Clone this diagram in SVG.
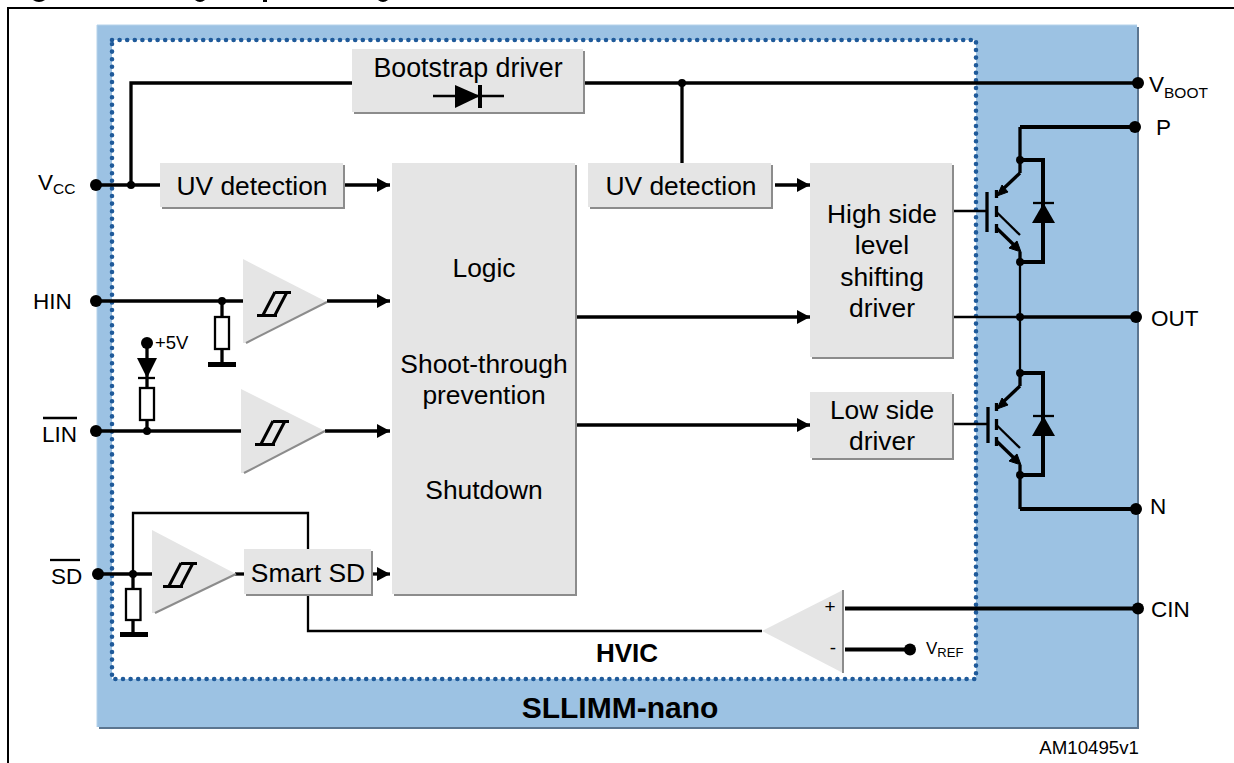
<svg xmlns="http://www.w3.org/2000/svg" width="1234" height="763" viewBox="0 0 1234 763">
<style>
text{font-family:"Liberation Sans",Arial,sans-serif;fill:#000}
.c{text-anchor:middle;font-size:26.400px}
.l{font-size:22.500px}
.s{font-size:15.500px}
.b{fill:#e5e5e5}
.sh{fill:#8c8c8c}
.w{fill:none;stroke:#000;stroke-width:3.300}
.t{fill:none;stroke:#000;stroke-width:2.300}
.k{fill:none;stroke:#000;stroke-width:4}
.r{fill:#fff;stroke:#000;stroke-width:2.300}
.tri{fill:#e5e5e5}
.hy{fill:none;stroke:#000;stroke-width:3}
</style>
<defs>
<marker id="a" markerUnits="userSpaceOnUse" markerWidth="13" markerHeight="14" refX="13" refY="7" orient="auto"><path d="M0 0L13 7L0 14Z" fill="#000"/></marker>
<g id="hyst"><path class="hy" d="M257 315.500H277M275 292.500H291M263 315L275 292M275 315L287 292"/></g>
<g id="igbt">
<path class="w" d="M1020 173L1002 190"/>
<path d="M1008 192L997 196L1002 185Z" fill="#000" stroke="#000"/>
<path class="t" d="M996.500 212L1020 235"/>
<path class="w" d="M996.500 228L1014 245"/>
<path d="M1009 248L1021 252L1017 241Z" fill="#000" stroke="#000"/>
<path class="w" d="M996.500 190V198M996.500 206V217M996.500 224V233"/>
<path d="M1032 223L1043.500 203L1055 223Z" fill="#000"/>
<path class="t" d="M1033 203H1054"/>
<path class="k" d="M1020 160H1043V262H1020"/>
<path class="w" d="M1020 160V173M1020 252V262"/>
<circle cx="1020" cy="160" r="4"/><circle cx="1020" cy="262" r="4"/>
</g>
</defs>
<rect width="1234" height="763" fill="#fff"/>
<path d="M33 0Q39 4 45 0ZM195 0Q200 4 205 0ZM263 0V2H267V0ZM378 0Q383 4 388 0Z" fill="#000"/>
<path d="M8 763V8H1234" fill="none" stroke="#000" stroke-width="2"/>
<g id="sllimm">
<rect x="99" y="27" width="1040" height="702" fill="#5b7590"/>
<rect x="97" y="25" width="1040" height="702" fill="#9cc2e3"/>
<path d="M97 727V25H1137" fill="none" stroke="#b5d2ea" stroke-width="1"/>
<text x="620" y="718" text-anchor="middle" font-size="30" font-weight="700">SLLIMM-nano</text>
</g>
<g id="hvic">
<rect x="112" y="40" width="864" height="639" fill="#fff" stroke="#1f5a9a" stroke-width="4.600" stroke-linecap="round" stroke-dasharray="0 7.600"/>
<text x="627" y="662" text-anchor="middle" font-size="26" font-weight="700">HVIC</text>
</g>
<g id="connectors">
<path class="w" d="M96 185H160M131 185V83H352M583 83H1138M682 83V163"/>
<path class="w" d="M345 185H390" marker-end="url(#a)"/>
<path class="w" d="M775 185H810" marker-end="url(#a)"/>
<path class="w" d="M96 301H243M222 301V363"/>
<path class="w" d="M327 301H390" marker-end="url(#a)"/>
<path class="w" d="M96 431H241M147 343V431"/>
<path class="w" d="M325 431H390" marker-end="url(#a)"/>
<path class="w" d="M98 574H152M133 574V632"/>
<path class="t" d="M133 574V513H308V549M308 595V631H762"/>
<path class="w" d="M235 574H244"/>
<path class="w" d="M372 574H390" marker-end="url(#a)"/>
<path class="w" d="M577 317H810" marker-end="url(#a)"/>
<path class="w" d="M577 425H810" marker-end="url(#a)"/>
<path class="t" d="M954 211H987M954 424H987M954 317H1020"/>
<path class="w" d="M1020 317H1136"/>
<path class="k" d="M1020 127H1135"/>
<path class="w" d="M1020 127V160"/>
<path class="t" d="M1020 262V373"/>
<path class="w" d="M1020 475V509"/>
<path class="k" d="M1020 509H1136"/>
<path class="k" d="M845 608.500H1138M845 649.500H910"/>
<path class="w" d="M987 192V232"/>
<path class="w" d="M988 407V443"/>
<g fill="#000">
<circle cx="96" cy="185" r="6"/><circle cx="131" cy="185" r="4"/><circle cx="682" cy="83" r="4"/><circle cx="1138" cy="83" r="6"/>
<circle cx="1135" cy="127" r="6"/><circle cx="1020" cy="317" r="4"/><circle cx="1136" cy="317" r="6"/><circle cx="1136" cy="509" r="6"/>
<circle cx="96" cy="301" r="6"/><circle cx="222" cy="301" r="4"/><circle cx="96" cy="431" r="6"/><circle cx="147" cy="431" r="4"/>
<circle cx="147" cy="343" r="6"/><circle cx="98" cy="574" r="6"/><circle cx="133" cy="574" r="4"/>
<circle cx="1138" cy="608.500" r="6"/><circle cx="910" cy="649.500" r="6"/>
</g>
</g>
<g id="bootstrap-driver">
<rect class="sh" x="354" y="51" width="231" height="63"/><rect class="b" x="352" y="49" width="231" height="63"/>
<text class="c" x="468" y="77" style="font-size:26.800px">Bootstrap driver</text>
<path class="t" d="M433 96H504"/><path d="M455 85L480 96L455 108Z" fill="#000"/><path d="M480 85V108" stroke="#000" stroke-width="4"/>
</g>
<g id="uv-detection-1"><rect class="sh" x="162" y="165" width="183" height="44"/><rect class="b" x="160" y="163" width="183" height="44"/><text class="c" x="252" y="195">UV detection</text></g>
<g id="logic"><rect class="sh" x="394" y="165" width="183" height="431"/><rect class="b" x="392" y="163" width="183" height="431"/>
<text class="c" x="484" y="277">Logic</text><text class="c" x="484" y="373">Shoot-through</text><text class="c" x="484" y="404">prevention</text><text class="c" x="484" y="499">Shutdown</text></g>
<g id="uv-detection-2"><rect class="sh" x="590" y="165" width="183" height="44"/><rect class="b" x="588" y="163" width="183" height="44"/><text class="c" x="681" y="195">UV detection</text></g>
<g id="high-side-driver"><rect class="sh" x="812" y="165" width="142" height="194"/><rect class="b" x="810" y="163" width="142" height="194"/>
<text class="c" x="882" y="223">High side</text><text class="c" x="882" y="254">level</text><text class="c" x="882" y="286">shifting</text><text class="c" x="882" y="317">driver</text></g>
<g id="low-side-driver"><rect class="sh" x="812" y="394" width="142" height="66"/><rect class="b" x="810" y="392" width="142" height="66"/>
<text class="c" x="882" y="419">Low side</text><text class="c" x="882" y="450">driver</text></g>
<g id="smart-sd"><rect class="sh" x="246" y="551" width="127" height="45"/><rect class="b" x="244" y="549" width="127" height="45"/><text class="c" x="308" y="582">Smart SD</text></g>
<g id="amp-hin"><path class="tri" d="M243 259L327 302L246 343L243 343Z"/><path d="M327 302L246 343" stroke="#8c8c8c" stroke-width="2"/><use href="#hyst"/></g>
<g id="amp-lin"><path class="tri" d="M241 389L325 431L244 473L241 473Z"/><path d="M325 431L244 473" stroke="#8c8c8c" stroke-width="2"/><use href="#hyst" x="-2" y="129"/></g>
<g id="amp-sd"><path class="tri" d="M152 530L236 574L155 613L152 613Z"/><path d="M236 574L155 613" stroke="#8c8c8c" stroke-width="2"/><use href="#hyst" x="-94" y="271"/></g>
<g id="comparator"><path class="tri" d="M762 631L843 590V673Z"/><path d="M843 590V673" stroke="#8c8c8c" stroke-width="2"/><text x="830" y="613" font-size="19" text-anchor="middle">+</text><text x="833" y="654" font-size="19" text-anchor="middle">-</text></g>
<g id="input-parts">
<rect class="r" x="215" y="317" width="14" height="32"/><rect x="208" y="362" width="28" height="5"/>
<rect class="r" x="126" y="589" width="14.500" height="31"/><rect x="120" y="632" width="28" height="5"/>
<path d="M137 358H157L147 378Z" fill="#000"/><path class="t" d="M138 378H155"/>
<rect class="r" x="140" y="388" width="14" height="32"/>
<text x="155" y="349" font-size="18.500">+5V</text>
</g>
<g id="igbt-high"><use href="#igbt"/></g>
<g id="igbt-low"><use href="#igbt" y="213"/></g>
<g id="labels">
<text class="l" x="38" y="190">V<tspan class="s" dy="4">CC</tspan></text>
<text class="l" x="33" y="309">HIN</text>
<text class="l" x="42" y="442">LIN</text><path class="t" d="M43 418H77"/>
<text class="l" x="51" y="584">SD</text><path class="t" d="M50 560H80"/>
<text class="l" x="1149" y="92">V<tspan class="s" dy="6">BOOT</tspan></text>
<text class="l" x="1156" y="135">P</text>
<text class="l" x="1151" y="326">OUT</text>
<text class="l" x="1150" y="514">N</text>
<text class="l" x="1151" y="617">CIN</text>
<text x="926" y="654" font-size="17">V<tspan font-size="13" dy="3">REF</tspan></text>
<text x="1139" y="754" font-size="18.700" text-anchor="end">AM10495v1</text>
</g>
</svg>
